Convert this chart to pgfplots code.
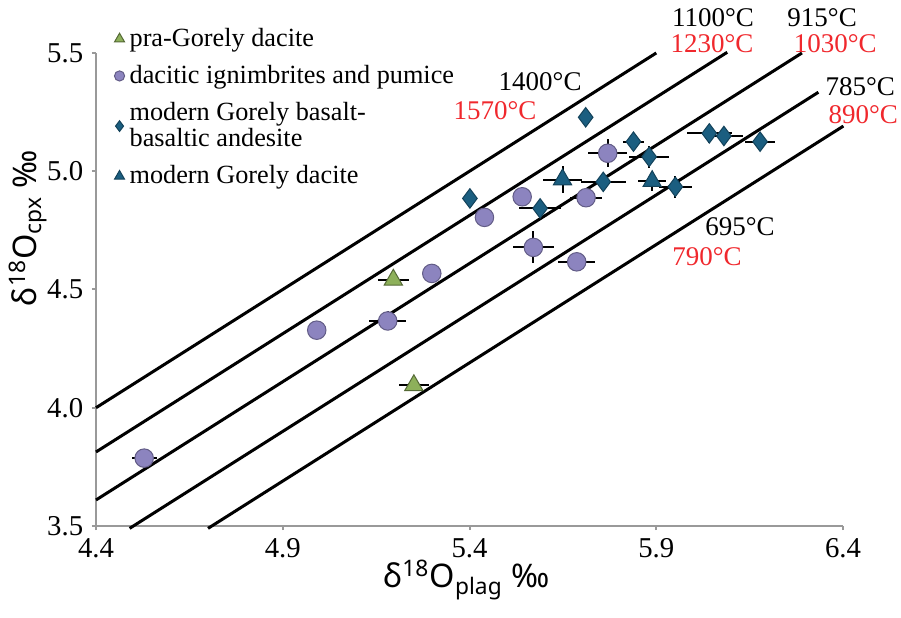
\documentclass[border=0pt]{standalone}
\usepackage{fontspec}
\setmainfont{Liberation Serif}
\newfontfamily\labelfont{Noto Sans}
\newfontfamily\tickfont{Liberation Serif}
\usepackage{pgfplots}
\pgfplotsset{compat=1.18}
\definecolor{praGreen}{HTML}{8DB05A}
\definecolor{ignPurple}{HTML}{8C84BF}
\definecolor{modBlue}{HTML}{1B5E80}
\definecolor{axGray}{HTML}{999999}
\definecolor{tRed}{HTML}{F0282D}

% data: x = d18O plag, y = d18O cpx, ex/ey = error half widths
\pgfplotstableread{
x     y     ex     ey
5.196 4.541 0.042  0
5.251 4.095 0.040  0
}\praGorely
\pgfplotstableread{
x     y     ex     ey
4.529 3.787 0.033  0
4.991 4.328 0      0
5.181 4.367 0.049  0.040
5.299 4.568 0      0
5.440 4.805 0      0
5.541 4.892 0      0
5.571 4.678 0.054  0.068
5.712 4.888 0.043  0.038
5.687 4.617 0.049  0
5.770 5.076 0.052  0.059
}\ignimbrites
\pgfplotstableread{
x     y     ex     ey
5.401 4.885 0      0
5.589 4.843 0.057  0
5.711 5.228 0      0
5.758 4.955 0.060  0
5.839 5.125 0.029  0
5.881 5.061 0.054  0.047
5.951 4.934 0.044  0.046
6.042 5.160 0.061  0.041
6.081 5.149 0.051  0
6.178 5.125 0.040  0
}\modBasalt
\pgfplotstableread{
x     y     ex     ey
5.649 4.965 0.051  0.057
5.889 4.958 0.038  0.040
}\modDacite

\begin{document}
\begin{tikzpicture}
\begin{axis}[
    scale only axis,
    width=298.8pt, height=189.2pt,
    xmin=4.4, xmax=6.4, ymin=3.5, ymax=5.5,
    xtick={4.4,4.9,5.4,5.9,6.4},
    xticklabels={4.4,4.9,5.4,5.9,6.4},
    ytick={3.5,4.0,4.5,5.0,5.5},
    yticklabels={3.5,4.0,4.5,5.0,5.5},
    tick label style={font=\tickfont\fontsize{11.5}{13}\selectfont},
    axis x line=bottom, axis y line=left,
    axis line style={-, axGray, line width=0.9pt},
    tick style={axGray, line width=0.8pt},
    tick align=outside, major tick length=1.6pt,
    clip=false,
    xlabel={\labelfont δ\textsuperscript{18}O\textsubscript{plag} ‰},
    ylabel={\labelfont δ\textsuperscript{18}O\textsubscript{cpx} ‰},
    xlabel style={font=\fontsize{13}{15}\selectfont, at={(rel axis cs:0.496,-0.114)}, anchor=center},
    ylabel style={font=\fontsize{13}{15}\selectfont, at={(rel axis cs:-0.091,0.63)}, anchor=center},
    legend style={at={(rel axis cs:0.014,1.075)}, anchor=north west, draw=none, fill=none,
        font=\fontsize{10.5}{8.8}\selectfont, row sep=2pt,
        cells={anchor=west, align=left}},
    legend image code/.code={\draw[#1, /tikz/every mark/.append style={scale=0.55}] plot coordinates {(0.1cm,0cm)};},
    error bars/error bar style={black, line width=0.8pt},
    error bars/error mark=none,
]
% isotherm lines
\addplot[black, line width=1.2pt, forget plot] coordinates {(4.4,4.0) (5.9,5.5)};
\addplot[black, line width=1.2pt, forget plot] coordinates {(4.4,3.813) (6.09,5.503)};
\addplot[black, line width=1.2pt, forget plot] coordinates {(4.4,3.61) (6.29,5.50)};
\addplot[black, line width=1.2pt, forget plot] coordinates {(4.49,3.49) (6.334,5.334)};
\addplot[black, line width=1.2pt, forget plot] coordinates {(4.70,3.49) (6.401,5.191)};

\addplot[only marks, mark=triangle*, mark size=4.2pt,
    mark options={fill=praGreen, draw=praGreen!60!black, line width=0.4pt},
    error bars/.cd, x dir=both, x explicit, y dir=both, y explicit]
    table[x=x, y=y, x error=ex, y error=ey] {\praGorely};
\addlegendentry{pra-Gorely dacite}

\addplot[only marks, mark=*, mark size=3.7pt,
    mark options={fill=ignPurple, draw=ignPurple!70!black, line width=0.4pt},
    error bars/.cd, x dir=both, x explicit, y dir=both, y explicit]
    table[x=x, y=y, x error=ex, y error=ey] {\ignimbrites};
\addlegendentry{dacitic ignimbrites and pumice}

\addplot[only marks, mark=diamond*, mark size=3.9pt,
    mark options={fill=modBlue, draw=modBlue!70!black, line width=0.4pt},
    error bars/.cd, x dir=both, x explicit, y dir=both, y explicit]
    table[x=x, y=y, x error=ex, y error=ey] {\modBasalt};
\addlegendentry{modern Gorely basalt-\\basaltic andesite}

\addplot[only marks, mark=triangle*, mark size=4.2pt,
    mark options={fill=modBlue, draw=modBlue!70!black, line width=0.4pt},
    error bars/.cd, x dir=both, x explicit, y dir=both, y explicit]
    table[x=x, y=y, x error=ex, y error=ey] {\modDacite};
\addlegendentry{modern Gorely dacite}

% temperature labels
\begin{scope}[font=\fontsize{10.8}{12}\selectfont, inner sep=0.5pt]
\node[black] at (axis cs:5.589,5.377) {1400°C};
\node[tRed]  at (axis cs:5.468,5.255) {1570°C};
\node[black] at (axis cs:6.052,5.648) {1100°C};
\node[tRed]  at (axis cs:6.049,5.538) {1230°C};
\node[black] at (axis cs:6.344,5.648) {915°C};
\node[tRed]  at (axis cs:6.379,5.538) {1030°C};
\node[black] at (axis cs:6.446,5.356) {785°C};
\node[tRed]  at (axis cs:6.454,5.240) {890°C};
\node[black] at (axis cs:6.124,4.764) {695°C};
\node[tRed]  at (axis cs:6.036,4.637) {790°C};
\end{scope}
\path (rel axis cs:-0.1285,-0.1924) rectangle (rel axis cs:1.0776,1.112);
\end{axis}
\end{tikzpicture}
\end{document}
